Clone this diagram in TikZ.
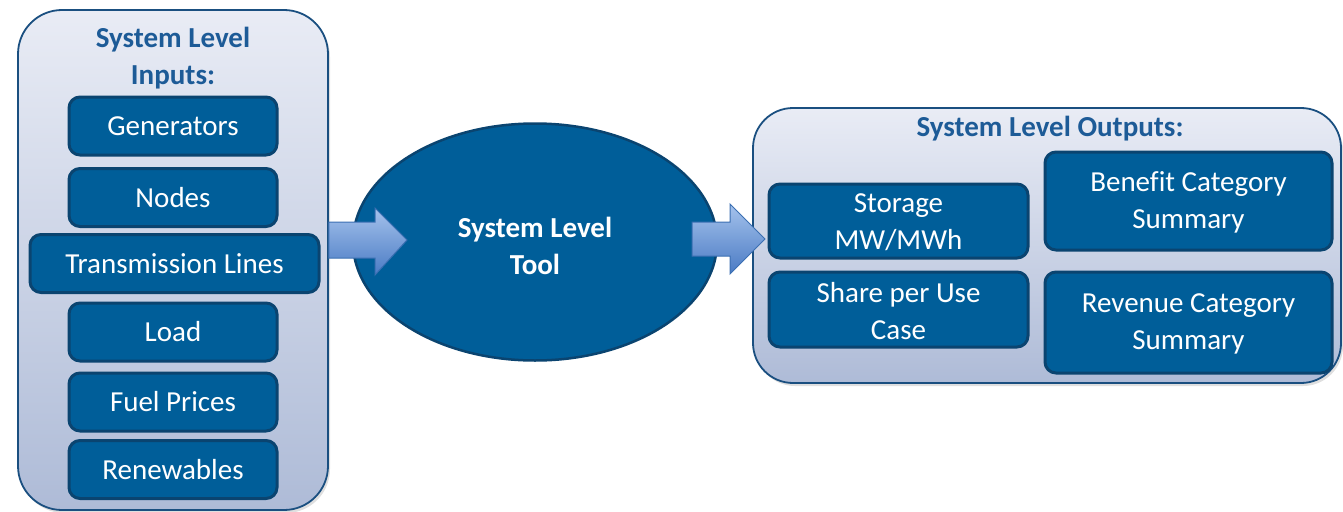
\documentclass[tikz,border=0pt]{standalone}
\usepackage{fontspec}
\setmainfont[Ligatures=NoCommon]{Carlito}
\usetikzlibrary{shapes.geometric,shadows}
\definecolor{boxfill}{HTML}{005E99}
\definecolor{boxline}{HTML}{0A4470}
\definecolor{contline}{HTML}{1A4F80}
\definecolor{conttop}{HTML}{E9ECF5}
\definecolor{contbot}{HTML}{AEBBD7}
\definecolor{titleblue}{HTML}{1D5B97}
\definecolor{arrtop}{HTML}{A5C2EC}
\definecolor{arrbot}{HTML}{4A7BC4}
\definecolor{arrline}{HTML}{3B6FB2}
\begin{document}
\begin{tikzpicture}[x=1pt,y=-1pt,
 every node/.style={font=\fontsize{29}{37}\selectfont, inner sep=0pt, align=center},
 container/.style={draw=contline, line width=1.8pt, rounded corners=44pt, top color=conttop, bottom color=contbot,
   drop shadow={shadow xshift=2pt,shadow yshift=-3pt,opacity=0.25}},
 itembox/.style={draw=boxline, line width=3pt, fill=boxfill, rounded corners=11pt, text=white, minimum height=58pt},
 tool/.style={ellipse, draw=boxline, line width=2.5pt, fill=boxfill, text=white,
   font=\fontsize{29}{37}\selectfont\bfseries, minimum width=364pt, minimum height=237pt},
 title/.style={text=titleblue, font=\fontsize{29}{37}\selectfont\bfseries},
 blockarrow/.style={draw=arrline, line width=1pt, top color=arrtop, bottom color=arrbot}
]
\useasboundingbox (0,0) rectangle (1343,511);

% containers
\node[container, minimum width=310pt, minimum height=500pt] (inL) at (173,260) {};
\node[container, minimum width=588pt, minimum height=275pt, rounded corners=40pt] (outR) at (1047,245.5) {};

% input title and items
\node[title] (inT) at (173,58) {System Level\\Inputs:};
\node[itembox, minimum width=208pt] (gen) at (173,126) {Generators};
\node[itembox, minimum width=208pt] (nod) at (173,197.5) {Nodes};
\node[itembox, minimum width=289pt] (trl) at (174.5,263.5) {Transmission Lines};
\node[itembox, minimum width=208pt] (lod) at (173,332) {Load};
\node[itembox, minimum width=208pt] (fue) at (173,402) {Fuel Prices};
\node[itembox, minimum width=208pt] (ren) at (173,469.5) {Renewables};

% tool
\node[tool] (tool) at (535,242) {};
\node[text=white, font=\fontsize{29}{37}\selectfont\bfseries] (toolT) at (535,246) {System Level\\Tool};

% output title and items
\node[title] (outT) at (1050,129) {System Level Outputs:};
\node[itembox, minimum width=259pt, minimum height=74pt] (sto) at (898.5,221) {};
\node[text=white] (stoT) at (898.5,222.5) {Storage\\MW/MWh};
\node[itembox, minimum width=259pt, minimum height=75pt] (sha) at (898.5,309.5) {};
\node[text=white] (shaT) at (898.5,311) {Share per Use\\Case};
\node[itembox, minimum width=287pt, minimum height=98pt] (ben) at (1188.5,201) {};
\node[text=white] (benT) at (1188.5,202.5) {Benefit Category\\Summary};
\node[itembox, minimum width=287pt, minimum height=101pt] (rev) at (1188.5,322.5) {};
\node[text=white] (revT) at (1188.5,324) {Revenue Category\\Summary};

% block arrows
\path[blockarrow] (inL.east |- 0,222) -- (375,222) -- (375,208) -- (407,240) -- (375,275) -- (375,258) -- (inL.east |- 0,258) -- cycle;
\path[blockarrow] (692,222) -- (730,222) -- (730,204) -- (765,239) -- (730,274) -- (730,256) -- (692,256) -- cycle;
\end{tikzpicture}
\end{document}
